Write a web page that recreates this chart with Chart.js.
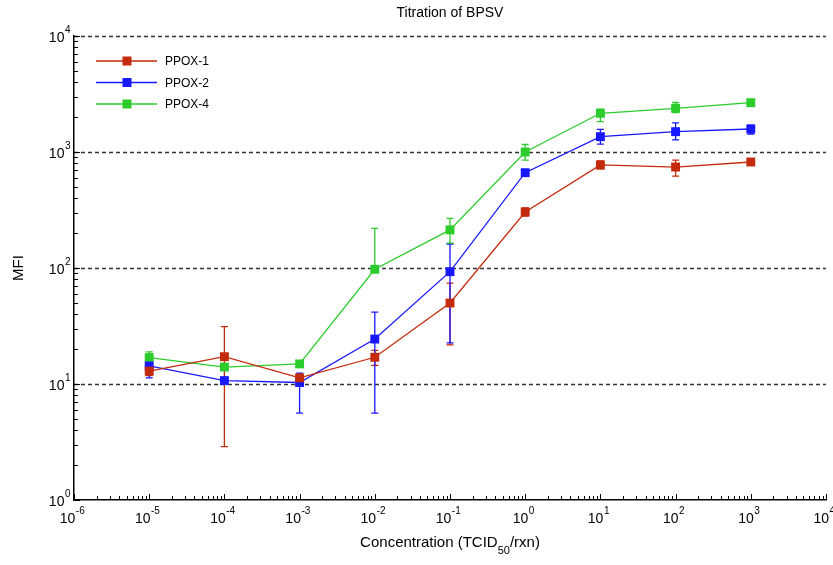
<!DOCTYPE html>
<html>
<head>
<meta charset="utf-8">
<script src="https://cdn.jsdelivr.net/npm/chart.js@4"></script>
<style>
  html, body { margin: 0; padding: 0; background: #fff; }
  #wrap { width: 833px; height: 565px; }
</style>
</head>
<body>
<div id="wrap"><canvas id="chart"></canvas></div>
<script>
// concentrations (TCID50/rxn)
const concentrations = [1e-5, 1e-4, 1e-3, 1e-2, 1e-1, 1e0, 1e1, 1e2, 1e3];

// MFI values
const ppox1 = [12.9, 17.2, 11.3, 17.0, 49.9, 304, 773, 742, 820];
const ppox1Low = [11.8, 2.88, 10.6, 14.5, 21.7, 280, 714, 620, 770];
const ppox1High = [14.1, 31.2, 12.0, 19.5, 74, 330, 837, 852, 870];

const ppox2 = [14.3, 10.7, 10.3, 24.4, 93, 663, 1355, 1497, 1578];
const ppox2Low = [11.3, 10.2, 5.6, 5.6, 22.6, 640, 1170, 1270, 1430];
const ppox2High = [17.5, 11.1, 12.4, 41.6, 161, 690, 1565, 1780, 1700];

const ppox4 = [16.9, 14.0, 14.9, 97.5, 213, 1000, 2157, 2381, 2661];
const ppox4Low = [15.2, 13.4, 14.3, 92, 164, 850, 1830, 2190, 2550];
const ppox4High = [18.9, 14.6, 15.6, 220, 268, 1160, 2340, 2670, 2780];

// axis decades
const xDecades = [-6, -5, -4, -3, -2, -1, 0, 1, 2, 3, 4];
const yDecades = [0, 1, 2, 3, 4];

const FONT = '"Liberation Sans", Arial, sans-serif';

function toPoints(ys) {
  return concentrations.map((c, i) => ({ x: c, y: ys[i] }));
}

const series = [
  { label: 'PPOX-1', data: ppox1, low: ppox1Low, high: ppox1High, color: '#c42a0c' },
  { label: 'PPOX-2', data: ppox2, low: ppox2Low, high: ppox2High, color: '#1818ff' },
  { label: 'PPOX-4', data: ppox4, low: ppox4Low, high: ppox4High, color: '#2ccc2c' }
];

// all 1..9 x 10^k values between the first and last decade
function logTicks(decades) {
  const ticks = [];
  for (let i = 0; i < decades.length - 1; i++) {
    for (let m = 1; m < 10; m++) ticks.push({ value: m * Math.pow(10, decades[i]) });
  }
  ticks.push({ value: Math.pow(10, decades[decades.length - 1]) });
  return ticks;
}

function isDecade(v) {
  return Math.abs(Math.log10(v) - Math.round(Math.log10(v))) < 1e-9;
}

// draw "10" with a raised exponent
function drawPower(ctx, x, y, exp, align) {
  ctx.font = '14px ' + FONT;
  const base = '10';
  const bw = ctx.measureText(base).width;
  ctx.font = '10px ' + FONT;
  const ew = ctx.measureText(String(exp)).width;
  let left;
  if (align === 'right') left = x - bw - ew;
  else left = x - (bw + ew) / 2;
  ctx.font = '14px ' + FONT;
  ctx.textAlign = 'left';
  ctx.textBaseline = 'middle';
  ctx.fillText(base, left, y);
  ctx.font = '10px ' + FONT;
  ctx.fillText(String(exp), left + bw + 0.5, y - 8);
}

const decorPlugin = {
  id: 'decor',
  beforeDatasetsDraw(chart) {
    const ctx = chart.ctx;
    const area = chart.chartArea;
    const xs = chart.scales.x;
    const ys = chart.scales.y;

    // dashed decade lines
    ctx.save();
    ctx.strokeStyle = '#333';
    ctx.lineWidth = 1.3;
    ctx.setLineDash([4, 3]);
    yDecades.slice(1).forEach(d => {
      const y = Math.round(ys.getPixelForValue(Math.pow(10, d))) + 0.5;
      ctx.beginPath();
      ctx.moveTo(area.left, y);
      ctx.lineTo(area.right, y);
      ctx.stroke();
    });
    ctx.restore();

    // inward tick marks
    ctx.save();
    ctx.strokeStyle = '#000';
    ctx.lineWidth = 1;
    logTicks(xDecades).forEach(t => {
      const x = Math.round(xs.getPixelForValue(t.value)) + 0.5;
      ctx.beginPath();
      ctx.moveTo(x, area.bottom);
      ctx.lineTo(x, area.bottom - (isDecade(t.value) ? 6 : 4));
      ctx.stroke();
    });
    logTicks(yDecades).forEach(t => {
      const y = Math.round(ys.getPixelForValue(t.value)) + 0.5;
      ctx.beginPath();
      ctx.moveTo(area.left, y);
      ctx.lineTo(area.left + (isDecade(t.value) ? 6 : 4), y);
      ctx.stroke();
    });
    ctx.restore();

    // error bars
    ctx.save();
    ctx.lineWidth = 1.3;
    series.forEach(s => {
      ctx.strokeStyle = s.color;
      concentrations.forEach((c, i) => {
        const x = xs.getPixelForValue(c);
        const y1 = ys.getPixelForValue(s.low[i]);
        const y2 = ys.getPixelForValue(s.high[i]);
        ctx.beginPath();
        ctx.moveTo(x, y1); ctx.lineTo(x, y2);
        ctx.moveTo(x - 3.5, y1); ctx.lineTo(x + 3.5, y1);
        ctx.moveTo(x - 3.5, y2); ctx.lineTo(x + 3.5, y2);
        ctx.stroke();
      });
    });
    ctx.restore();
  },
  afterDraw(chart) {
    const ctx = chart.ctx;
    const area = chart.chartArea;
    const xs = chart.scales.x;
    const ys = chart.scales.y;
    ctx.save();
    ctx.fillStyle = '#000';

    // tick labels
    xDecades.forEach(d => {
      const x = xs.getPixelForValue(Math.pow(10, d));
      drawPower(ctx, x - 2, area.bottom + 19, d, 'center');
    });
    yDecades.forEach(d => {
      const y = ys.getPixelForValue(Math.pow(10, d));
      drawPower(ctx, area.left - 4, y + 2, d, 'right');
    });

    // title
    ctx.font = '14px ' + FONT;
    ctx.textAlign = 'center';
    ctx.textBaseline = 'middle';
    ctx.fillText('Titration of BPSV', (area.left + area.right) / 2, 13);

    // x axis title with subscript
    const cx = (area.left + area.right) / 2;
    const parts = ['Concentration (TCID', '50', '/rxn)'];
    ctx.font = '15px ' + FONT;
    const w0 = ctx.measureText(parts[0]).width;
    const w2 = ctx.measureText(parts[2]).width;
    ctx.font = '11px ' + FONT;
    const w1 = ctx.measureText(parts[1]).width;
    const left = cx - (w0 + w1 + w2) / 2;
    ctx.textAlign = 'left';
    ctx.font = '15px ' + FONT;
    ctx.fillText(parts[0], left, 543);
    ctx.font = '11px ' + FONT;
    ctx.fillText(parts[1], left + w0, 551);
    ctx.font = '15px ' + FONT;
    ctx.fillText(parts[2], left + w0 + w1, 543);

    // y axis title
    ctx.save();
    ctx.translate(19, (area.top + area.bottom) / 2);
    ctx.rotate(-Math.PI / 2);
    ctx.textAlign = 'center';
    ctx.font = '15px ' + FONT;
    ctx.fillText('MFI', 0, 0);
    ctx.restore();

    // legend
    series.forEach((s, i) => {
      const y = 61 + i * 21.5;
      ctx.strokeStyle = s.color;
      ctx.lineWidth = 1.5;
      ctx.beginPath();
      ctx.moveTo(96, y); ctx.lineTo(157, y);
      ctx.stroke();
      ctx.fillStyle = s.color;
      ctx.fillRect(122.5, y - 4.5, 9, 9);
      ctx.fillStyle = '#000';
      ctx.font = '12px ' + FONT;
      ctx.textAlign = 'left';
      ctx.fillText(s.label, 165, y + 1);
    });
    ctx.restore();
  }
};

new Chart(document.getElementById('chart'), {
  type: 'line',
  data: {
    datasets: series.map(s => ({
      label: s.label,
      data: toPoints(s.data),
      borderColor: s.color,
      backgroundColor: s.color,
      borderWidth: 1.3,
      pointStyle: 'rect',
      pointRadius: 6.3,
      pointHoverRadius: 6.3,
      pointBorderWidth: 0,
      tension: 0
    }))
  },
  options: {
    responsive: true,
    maintainAspectRatio: false,
    animation: false,
    events: [],
    layout: { padding: { top: 36, right: 7, left: 0, bottom: 0 } },
    plugins: {
      legend: { display: false },
      title: { display: false },
      tooltip: { enabled: false }
    },
    scales: {
      x: {
        type: 'logarithmic',
        min: Math.pow(10, xDecades[0]),
        max: Math.pow(10, xDecades[xDecades.length - 1]),
        afterBuildTicks: scale => { scale.ticks = logTicks(xDecades); },
        afterFit: scale => { scale.height = 65; },
        ticks: { display: false },
        grid: { display: false },
        border: { display: true, color: '#000', width: 1.5 }
      },
      y: {
        type: 'logarithmic',
        min: Math.pow(10, yDecades[0]),
        max: Math.pow(10, yDecades[yDecades.length - 1]),
        afterBuildTicks: scale => { scale.ticks = logTicks(yDecades); },
        afterFit: scale => { scale.width = 74; },
        ticks: { display: false },
        grid: { display: false },
        border: { display: true, color: '#000', width: 1.5 }
      }
    }
  },
  plugins: [decorPlugin]
});
</script>
</body>
</html>
